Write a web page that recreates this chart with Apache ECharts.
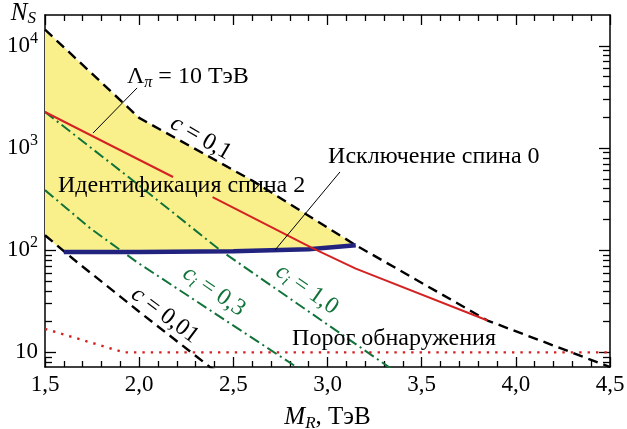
<!DOCTYPE html>
<html>
<head>
<meta charset="utf-8">
<script src="https://cdn.jsdelivr.net/npm/echarts@6/dist/echarts.min.js"></script>
<style>
  html, body { margin: 0; padding: 0; background: #ffffff; }
  #chart { width: 627px; height: 429px; }
</style>
</head>
<body>
<div id="chart"></div>
<script>
// Signal event counts N_S versus resonance mass M_R (TeV)
const cLoose     = [[1.5, 14400], [2.0, 1970], [2.6, 480], [3.15, 112], [3.85, 20.5], [4.5, 7.2]];   // c = 0,1
const cTight     = [[1.5, 140], [1.65, 82], [2.0, 25], [2.38, 7.1], [2.45, 6]];                      // c = 0,01
const ci03       = [[1.5, 387], [1.74, 164], [1.99, 76], [2.84, 7.1], [2.9, 6.3]];                    // c_i = 0,3
const ci10       = [[1.5, 2255], [1.95, 508], [2.43, 100], [3.33, 7.1], [3.4, 6.3]];                  // c_i = 1,0
// Λπ = 10 TeV; the '-' entry leaves the gap where the curve passes under its label
const lambda10   = [[1.5, 2250], [2.18, 520], [2.28, '-'], [2.39, 330], [2.92, 105], [3.15, 66], [3.85, 20.5]];
const spin0Excl  = [[1.6, 96], [2.0, 96], [2.5, 97.5], [2.9, 102], [3.15, 112]];                      // spin-0 exclusion
const threshold  = [[1.5, 17], [1.92, 10], [4.5, 10]];                                                // discovery threshold

const xTickValues = [1.5, 2.0, 2.5, 3.0, 3.5, 4.0, 4.5];
const xTickLabels = ['1,5', '2,0', '2,5', '3,0', '3,5', '4,0', '4,5'];
const yTickValues = [10, 100, 1000, 10000];
const yTickLabels = ['10', '10{sup|2}', '10{sup|3}', '10{sup|4}'];

const Y_MIN = 7.2, Y_MAX = 20000;
const yMinorValues = [];
[1, 10, 100, 1000, 10000].forEach(function (d) {
  for (let m = 2; m <= 9; m++) {
    const v = m * d;
    if (v > Y_MIN && v < Y_MAX) yMinorValues.push(v);
  }
});

const FONT = 'Liberation Serif';
const FS = 23;      // tick labels
const TFS = 25;     // axis titles
const NFS = 24;     // note text
const YELLOW = '#f9f08c';
const GREEN = '#11733a';
const RED = '#d42222';
const NAVY = '#22237e';

// Text notes placed in chart units
const notes = [
  { at: [1.935, 5000], text: '{n|Λ}{s|π}{n| = 10 ТэВ}', align: 'left', color: '#000' },
  { at: [3.003, 817], text: '{n|Исключение спина 0}', align: 'left', color: '#000' },
  { at: [1.569, 424], text: '{n|Идентификация спина 2}', align: 'left', color: '#000' },
  { at: [2.812, 13.7], text: '{n|Порог обнаружения}', align: 'left', color: '#000' },
  { at: [2.328, 1250], text: '{i|c}{n| = 0,1}', align: 'center', color: '#000', angle: 30 },
  { at: [2.137, 23.1], text: '{i|c}{n| = 0,01}', align: 'center', color: '#000', angle: 37 },
  { at: [2.397, 39.6], text: '{i|c}{s|i}{n| = 0,3}', align: 'center', color: GREEN, angle: 35 },
  { at: [2.891, 41.4], text: '{i|c}{s|i}{n| = 1,0}', align: 'center', color: GREEN, angle: 35 }
];
const leaders = [
  [[1.989, 3870], [1.755, 1400]],
  [[3.066, 582], [2.721, 100]]
];

function richFor(color) {
  return {
    n: { fontFamily: FONT, fontSize: NFS, fill: color, lineHeight: 28 },
    i: { fontFamily: FONT, fontSize: NFS, fill: color, fontStyle: 'italic', lineHeight: 28 },
    s: { fontFamily: FONT, fontSize: 16, fill: color, fontStyle: 'italic', verticalAlign: 'bottom', lineHeight: 16 }
  };
}

function lineSeries(name, data, style, z) {
  return {
    name: name, type: 'line', data: data, symbol: 'none', smooth: false,
    connectNulls: false, clip: true, lineStyle: style, z: z || 3, silent: true, animation: false
  };
}

const axisLineStyle = { color: '#000', width: 1.5 };

function yAxisDef(position, values, isMajor) {
  return {
    type: 'log', logBase: 10, min: Y_MIN, max: Y_MAX, position: position,
    axisLine: { show: isMajor, lineStyle: axisLineStyle },
    axisTick: { show: true, inside: true, length: isMajor ? 11 : 7, customValues: values,
                lineStyle: { color: '#000', width: 1.3 } },
    axisLabel: (isMajor && position === 'left') ? {
      show: true, customValues: values, margin: 7,
      fontFamily: FONT, fontSize: FS, color: '#000',
      formatter: function (v) {
        const i = yTickValues.findIndex(function (t) { return Math.abs(t - v) / t < 1e-6; });
        return i >= 0 ? yTickLabels[i] : '';
      },
      rich: {
        sup: { fontFamily: FONT, fontSize: 16, color: '#000', verticalAlign: 'top', lineHeight: 16 }
      },
      lineHeight: 30
    } : { show: false },
    splitLine: { show: false },
    minorTick: { show: false },
    name: (isMajor && position === 'left') ? '{n|N}{s|S}' : '',
    nameLocation: 'end', nameGap: 2,
    nameTextStyle: {
      align: 'right', verticalAlign: 'bottom', padding: [0, 9, -14, 0],
      rich: {
        n: { fontFamily: FONT, fontSize: TFS, fontStyle: 'italic', color: '#000', lineHeight: 28 },
        s: { fontFamily: FONT, fontSize: 17, fontStyle: 'italic', color: '#000', verticalAlign: 'bottom', lineHeight: 16 }
      }
    }
  };
}

function xAxisDef(position, showLabel) {
  return {
    type: 'value', min: 1.5, max: 4.5, interval: 0.5, position: position,
    axisLine: { show: true, onZero: false, lineStyle: axisLineStyle },
    axisTick: { show: true, inside: true, length: 10, lineStyle: { color: '#000', width: 1.3 } },
    minorTick: { show: true, splitNumber: 5, length: 6, lineStyle: { color: '#000', width: 1.3 } },
    axisLabel: showLabel ? {
      show: true, margin: 6, fontFamily: FONT, fontSize: FS, color: '#000',
      formatter: function (v) {
        const i = xTickValues.findIndex(function (t) { return Math.abs(t - v) < 1e-6; });
        return i >= 0 ? xTickLabels[i] : '';
      }
    } : { show: false },
    splitLine: { show: false },
    minorSplitLine: { show: false },
    name: showLabel ? '{i|M}{s|R}{n|, ТэВ}' : '',
    nameLocation: 'middle', nameGap: 35,
    nameTextStyle: {
      rich: {
        n: { fontFamily: FONT, fontSize: TFS, color: '#000', lineHeight: 30 },
        i: { fontFamily: FONT, fontSize: TFS, fontStyle: 'italic', color: '#000', lineHeight: 30 },
        s: { fontFamily: FONT, fontSize: 17, fontStyle: 'italic', color: '#000', verticalAlign: 'bottom', lineHeight: 18 }
      }
    }
  };
}

// Region between c = 0,1 (above), spin-0 exclusion and c = 0,01 (below)
const fillSeries = {
  type: 'custom', z: 1, silent: true, animation: false,
  data: [[2, 100]],
  renderItem: function (params, api) {
    const xEnd = spin0Excl[spin0Excl.length - 1][0];
    const upper = cLoose.filter(function (p) { return p[0] <= xEnd + 1e-9; });
    const lower = spin0Excl.slice().reverse();
    const pts = upper.concat(lower).concat([cTight[0]]).map(function (p) { return api.coord(p); });
    return { type: 'polygon', shape: { points: pts }, style: { fill: YELLOW, stroke: null } };
  }
};

const noteSeries = {
  type: 'custom', z: 10, silent: true, animation: false,
  data: notes.map(function (n) { return n.at; }),
  renderItem: function (params, api) {
    const n = notes[params.dataIndex];
    const p = api.coord(n.at);
    return {
      type: 'text', x: p[0], y: p[1],
      rotation: n.angle ? -n.angle * Math.PI / 180 : 0,
      style: {
        text: n.text, align: n.align, verticalAlign: 'middle',
        rich: richFor(n.color), fill: n.color, fontFamily: FONT, fontSize: NFS
      }
    };
  }
};

const leaderSeries = {
  type: 'custom', z: 9, silent: true, animation: false,
  data: leaders.map(function (l) { return l[0]; }),
  renderItem: function (params, api) {
    const l = leaders[params.dataIndex];
    const a = api.coord(l[0]), b = api.coord(l[1]);
    return { type: 'line', shape: { x1: a[0], y1: a[1], x2: b[0], y2: b[1] },
             style: { stroke: '#000', lineWidth: 1 } };
  }
};

const option = {
  backgroundColor: '#ffffff',
  animation: false,
  textStyle: { fontFamily: FONT },
  grid: { left: 45, right: 17, top: 15, bottom: 62, containLabel: false, outerBoundsMode: 'none' },
  xAxis: [xAxisDef('bottom', true), xAxisDef('top', false)],
  yAxis: [
    yAxisDef('left', yTickValues, true),
    yAxisDef('left', yMinorValues, false),
    yAxisDef('right', yTickValues, true),
    yAxisDef('right', yMinorValues, false)
  ],
  series: [
    fillSeries,
    lineSeries('c = 0,01', cTight, { color: '#000', width: 2.4, type: [10, 6] }, 3),
    lineSeries('c = 0,1', cLoose, { color: '#000', width: 2.4, type: [10, 6] }, 3),
    lineSeries('ci = 0,3', ci03, { color: GREEN, width: 2, type: [11, 4, 2, 4] }, 3),
    lineSeries('ci = 1,0', ci10, { color: GREEN, width: 2, type: [11, 4, 2, 4] }, 3),
    lineSeries('Порог', threshold, { color: RED, width: 2.4, type: [2.4, 6] }, 3),
    lineSeries('Исключение спина 0', spin0Excl, { color: NAVY, width: 4.5 }, 4),
    lineSeries('Λπ = 10 ТэВ', lambda10, { color: RED, width: 2 }, 5),
    leaderSeries,
    noteSeries
  ]
};

const chart = echarts.init(document.getElementById('chart'));
chart.setOption(option);
</script>
</body>
</html>
